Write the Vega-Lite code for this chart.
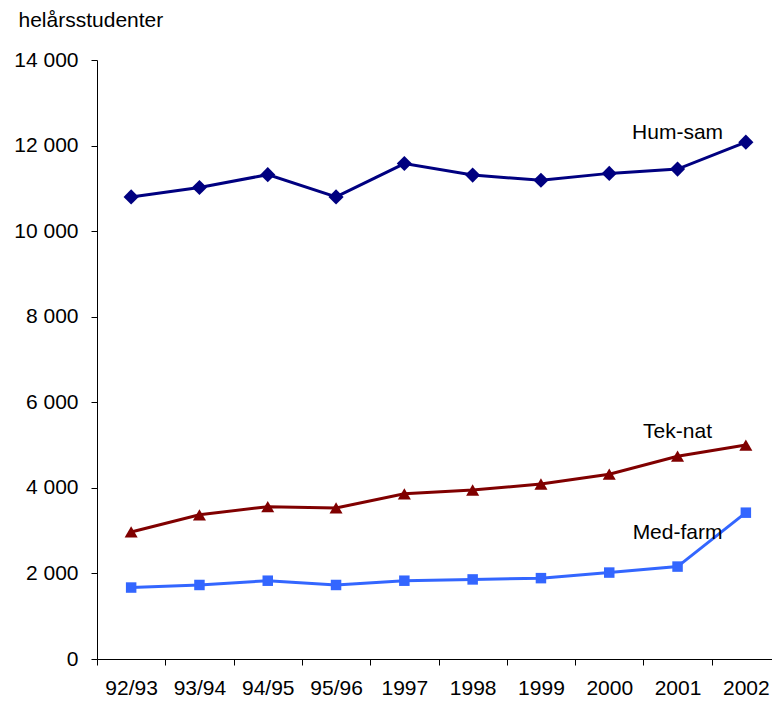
{
  "$schema": "https://vega.github.io/schema/vega-lite/v6.json",
  "width": 683,
  "height": 599,
  "autosize": {"type": "none"},
  "padding": {"left": 97, "top": 60, "right": -8, "bottom": 42},
  "background": "white",
  "config": {
    "view": {"stroke": null},
    "font": "Liberation Sans",
    "axis": {"labelFont": "Liberation Sans", "titleFont": "Liberation Sans"}
  },
  "datasets": {
    "main": [
      {"year": "92/93", "series": "Hum-sam", "value": 10800},
      {"year": "93/94", "series": "Hum-sam", "value": 11020},
      {"year": "94/95", "series": "Hum-sam", "value": 11320},
      {"year": "95/96", "series": "Hum-sam", "value": 10800},
      {"year": "1997", "series": "Hum-sam", "value": 11580},
      {"year": "1998", "series": "Hum-sam", "value": 11310},
      {"year": "1999", "series": "Hum-sam", "value": 11190},
      {"year": "2000", "series": "Hum-sam", "value": 11350},
      {"year": "2001", "series": "Hum-sam", "value": 11450},
      {"year": "2002", "series": "Hum-sam", "value": 12080},
      {"year": "92/93", "series": "Tek-nat", "value": 2970},
      {"year": "93/94", "series": "Tek-nat", "value": 3370},
      {"year": "94/95", "series": "Tek-nat", "value": 3560},
      {"year": "95/96", "series": "Tek-nat", "value": 3530},
      {"year": "1997", "series": "Tek-nat", "value": 3860},
      {"year": "1998", "series": "Tek-nat", "value": 3950},
      {"year": "1999", "series": "Tek-nat", "value": 4090},
      {"year": "2000", "series": "Tek-nat", "value": 4320},
      {"year": "2001", "series": "Tek-nat", "value": 4740},
      {"year": "2002", "series": "Tek-nat", "value": 5000},
      {"year": "92/93", "series": "Med-farm", "value": 1670},
      {"year": "93/94", "series": "Med-farm", "value": 1730},
      {"year": "94/95", "series": "Med-farm", "value": 1830},
      {"year": "95/96", "series": "Med-farm", "value": 1730},
      {"year": "1997", "series": "Med-farm", "value": 1830},
      {"year": "1998", "series": "Med-farm", "value": 1860},
      {"year": "1999", "series": "Med-farm", "value": 1890},
      {"year": "2000", "series": "Med-farm", "value": 2020},
      {"year": "2001", "series": "Med-farm", "value": 2160},
      {"year": "2002", "series": "Med-farm", "value": 3420}
    ],
    "labels": [
      {"year": "2001", "series": "Hum-sam", "value": 12290},
      {"year": "2001", "series": "Tek-nat", "value": 5300},
      {"year": "2001", "series": "Med-farm", "value": 2950}
    ]
  },
  "encoding": {
    "x": {
      "field": "year",
      "type": "ordinal",
      "sort": null,
      "bandPosition": 0.5,
      "scale": {"type": "band", "paddingInner": 0, "paddingOuter": 0,
        "domain": ["92/93", "93/94", "94/95", "95/96", "1997", "1998", "1999", "2000", "2001", "2002"]},
      "axis": {
        "title": null,
        "labelAngle": 0,
        "labelFontSize": 21,
        "labelColor": "black",
        "labelPadding": 12,
        "tickBand": "extent",
        "tickSize": 6,
        "tickColor": "black",
        "domainColor": "black",
        "grid": false
      }
    },
    "y": {
      "field": "value",
      "type": "quantitative",
      "scale": {"domain": [0, 14000], "nice": false},
      "axis": {
        "values": [0, 2000, 4000, 6000, 8000, 10000, 12000, 14000],
        "labelExpr": "replace(format(datum.value, ','), ',', ' ')",
        "labelFontSize": 21,
        "labelColor": "black",
        "labelPadding": 13,
        "tickSize": 6,
        "tickColor": "black",
        "domainColor": "black",
        "grid": false,
        "title": "helårsstudenter",
        "titleAngle": 0,
        "titleFontSize": 21,
        "titleFontWeight": "normal",
        "titleColor": "black",
        "titleAlign": "left",
        "titleBaseline": "middle",
        "titleX": -79,
        "titleY": -40
      }
    },
    "color": {
      "field": "series",
      "type": "nominal",
      "scale": {"domain": ["Hum-sam", "Tek-nat", "Med-farm"], "range": ["#000080", "#800000", "#3366ff"]},
      "legend": null
    }
  },
  "layer": [
    {
      "data": {"name": "main"},
      "mark": {"type": "line", "strokeWidth": 3}
    },
    {
      "data": {"name": "main"},
      "mark": {"type": "point", "filled": true, "opacity": 1},
      "encoding": {
        "shape": {"field": "series", "type": "nominal",
          "scale": {"domain": ["Hum-sam", "Tek-nat", "Med-farm"], "range": ["diamond", "triangle-up", "square"]},
          "legend": null},
        "size": {"field": "series", "type": "nominal",
          "scale": {"domain": ["Hum-sam", "Tek-nat", "Med-farm"], "range": [230, 110, 196]},
          "legend": null}
      }
    },
    {
      "data": {"name": "labels"},
      "mark": {"type": "text", "fontSize": 21, "font": "Liberation Sans", "align": "center", "baseline": "middle", "color": "black"},
      "encoding": {
        "text": {"field": "series"},
        "color": {"value": "black"}
      }
    }
  ]
}
